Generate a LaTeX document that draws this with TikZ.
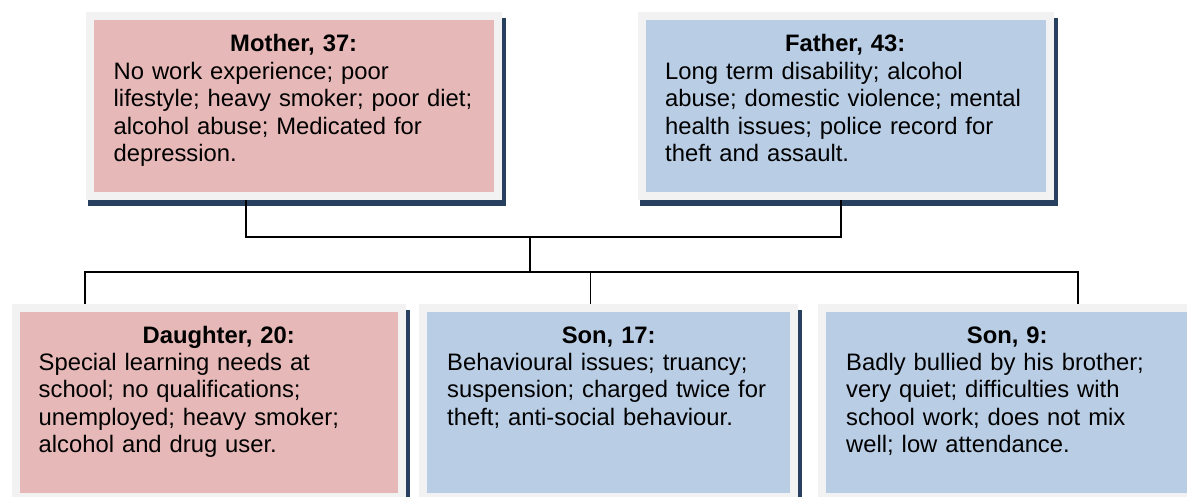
\documentclass[tikz,border=0pt]{standalone}
\usepackage{fontspec}
\setmainfont{Liberation Sans}
\definecolor{pinkfill}{HTML}{E6B8B7}
\definecolor{bluefill}{HTML}{B9CDE5}
\definecolor{framegrey}{HTML}{F2F2F2}
\definecolor{shadownavy}{HTML}{27405F}
\tikzset{
  famcard/.style={draw=framegrey, line width=8pt, inner sep=0pt, minimum height=#1},
  famcard/.default=180pt,
  cardtext/.style={anchor=base west, inner sep=0pt, align=left,
    font=\fontsize{23.8pt}{27.4pt}\selectfont},
  famline/.style={line width=1.6pt}
}
\begin{document}
\begin{tikzpicture}[x=1pt,y=-1pt]
        \useasboundingbox (0,0) rectangle (1187,497);

        % parents
        \node [famcard, fill=pinkfill, minimum width=408pt] (mother) at (294,106) {};
        \node [famcard, fill=bluefill, minimum width=408pt] (father) at (846,106) {};

        % children
        \node [famcard=189pt, fill=pinkfill, minimum width=386pt] (daughter) at (208.5,402.5) {};
        \node [famcard=189pt, fill=bluefill, minimum width=371pt] (sonA) at (608.5,402.5) {};
        \node [famcard=189pt, fill=bluefill, minimum width=370pt] (sonB) at (1007,402.5) {};

        % shadows on the right and bottom edges
        \foreach \n in {mother,father,daughter,sonA,sonB} {
          \fill [shadownavy] ([yshift=-6pt]\n.north east) rectangle ([xshift=4pt,yshift=-6pt]\n.south east);
          \fill [shadownavy] ([xshift=2pt]\n.south west) rectangle ([xshift=4pt,yshift=-6pt]\n.south east);
        }

        \node [cardtext, text width=360pt] (mothertxt) at ([xshift=27.5pt,yshift=-40pt]mother.north west)
          {\makebox[\linewidth]{\textbf{Mother, 37:}}\\
           No work experience; poor\\
           lifestyle; heavy smoker; poor diet;\\
           alcohol abuse; Medicated for\\
           depression.};
        \node [cardtext, text width=360pt] (fathertxt) at ([xshift=27pt,yshift=-40pt]father.north west)
          {\makebox[\linewidth]{\textbf{Father, 43:}}\\
           Long term disability; alcohol\\
           abuse; domestic violence; mental\\
           health issues; police record for\\
           theft and assault.};
        \node [cardtext, text width=338pt] (daughtertxt) at ([xshift=27pt,yshift=-39pt]daughter.north west)
          {\makebox[\linewidth]{\hspace{22pt}\textbf{Daughter, 20:}}\\
           Special learning needs at\\
           school; no qualifications;\\
           unemployed; heavy smoker;\\
           alcohol and drug user.};
        \node [cardtext, text width=323pt] (sonAtxt) at ([xshift=28pt,yshift=-39pt]sonA.north west)
          {\makebox[\linewidth]{\textbf{Son, 17:}}\\
           Behavioural issues; truancy;\\
           suspension; charged twice for\\
           theft; anti-social behaviour.};
        \node [cardtext, text width=322pt] (sonBtxt) at ([xshift=28pt,yshift=-39pt]sonB.north west)
          {\makebox[\linewidth]{\textbf{Son, 9:}}\\
           Badly bullied by his brother;\\
           very quiet; difficulties with\\
           school work; does not mix\\
           well; low attendance.};

        % family lines
        \coordinate (join) at (530,237);
        \coordinate (bus) at (530,272);
        \coordinate (sonAtop) at ([xshift=-18pt]sonA.north);
        \draw [famline] ([xshift=-48pt]mother.south) |- (join) -| ([xshift=-5pt]father.south);
        \draw [famline] (join) -- (bus);
        \draw [famline] ([xshift=-123.5pt]daughter.north) |- (bus) -| ([xshift=71pt]sonB.north);
        \draw [famline] (sonAtop) -- (sonAtop |- bus);
      \end{tikzpicture}
\end{document}
